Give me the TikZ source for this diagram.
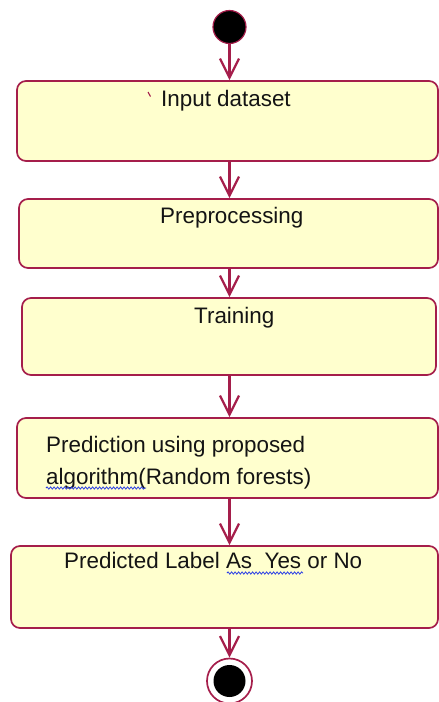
\documentclass[tikz,border=0pt]{standalone}
\usepackage{fontspec}
\setmainfont{Liberation Sans}
\usetikzlibrary{arrows.meta,decorations.pathmorphing}
\definecolor{umlred}{RGB}{165,30,75}
\definecolor{boxfill}{RGB}{255,255,206}
\definecolor{txt}{RGB}{20,20,20}
\definecolor{spell}{RGB}{40,60,230}
\begin{document}
\begin{tikzpicture}[x=1pt,y={(0pt,-1pt)},
  actbox/.style={draw=umlred,line width=1.7pt,fill=boxfill,rounded corners=9pt,inner sep=0pt},
  lbl/.style={anchor=base west,inner sep=0pt,text=txt,font=\fontsize{22.4}{26}\selectfont},
  flow/.style={draw=umlred,line width=2.3pt,-{Straight Barb[length=19pt,width=19pt,line width=2.3pt]}},
  squiggle/.style={draw=spell,line width=0.8pt,decorate,decoration={snake,amplitude=1.1pt,segment length=3.5pt}}]
\useasboundingbox (0,0) rectangle (439,702);
% start
\node[circle,fill=black,draw=umlred,line width=1.2pt,minimum size=33pt,inner sep=0pt] (start) at (229.5,27) {};
% boxes
\node[actbox,minimum width=421pt,minimum height=80pt] (b1) at (227.5,121) {};
\node[actbox,minimum width=419pt,minimum height=69pt] (b2) at (228.5,233.5) {};
\node[actbox,minimum width=414pt,minimum height=77pt] (b3) at (229,336.5) {};
\node[actbox,minimum width=421pt,minimum height=80pt] (b4) at (227.5,458) {};
\node[actbox,minimum width=427pt,minimum height=82pt] (b5) at (224.5,587) {};
% end
\node[circle,fill=white,draw=umlred,line width=1.7pt,minimum size=45pt,inner sep=0pt] (end) at (229.5,681) {};
\node[circle,fill=black,minimum size=32pt,inner sep=0pt] (endin) at (end.center) {};
% texts
\node[lbl] (t1) at (161,106) {Input dataset};
\node[lbl] (t2) at (160,223.5) {Preprocessing};
\node[lbl] (t3) at (194,323) {Training};
\node[lbl] (t4a) at (46,452) {Prediction using proposed};
\node[lbl] (t4b) at (46,484) {algorithm(Random forests)};
\node[lbl] (t5) at (64,568) {Predicted Label As\ \ Yes or No};
% stray tick
\coordinate (tk1) at (148,92);
\coordinate (tk2) at (150.5,96.5);
\draw[umlred,line width=1.1pt] (tk1) -- (tk2);
% spell-check squiggles
\coordinate (s1a) at (46,488);
\coordinate (s1b) at (146,488);
\coordinate (s2a) at (227,573);
\coordinate (s2b) at (303,573);
\draw[squiggle] (s1a) -- (s1b);
\draw[squiggle] (s2a) -- (s2b);
% connectors
\draw[flow] (start) -- (b1.north -| start);
\draw[flow] (b1.south -| start) -- (b2.north -| start);
\draw[flow] (b2.south -| start) -- (b3.north -| start);
\draw[flow] (b3.south -| start) -- (b4.north -| start);
\draw[flow] (b4.south -| start) -- (b5.north -| start);
\draw[flow] (b5.south -| start) -- (end.north);
\end{tikzpicture}
\end{document}
